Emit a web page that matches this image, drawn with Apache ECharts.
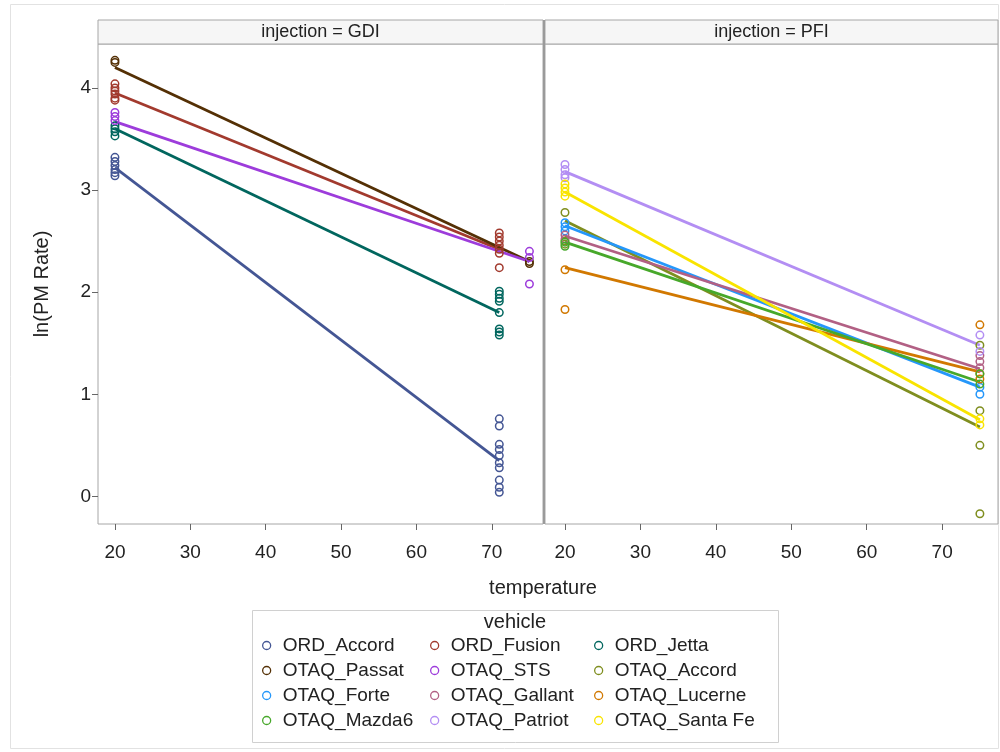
<!DOCTYPE html>
<html>
<head>
<meta charset="utf-8">
<script src="https://cdn.jsdelivr.net/npm/echarts@6/dist/echarts.min.js"></script>
<style>html,body{margin:0;padding:0;background:#fff}#c{width:1000px;height:752px}</style>
</head>
<body>
<div id="c"></div>
<script>
// ---- data ----
const vehicles = ['ORD_Accord','ORD_Fusion','ORD_Jetta','OTAQ_Passat','OTAQ_STS','OTAQ_Accord',
                  'OTAQ_Forte','OTAQ_Gallant','OTAQ_Lucerne','OTAQ_Mazda6','OTAQ_Patriot','OTAQ_Santa Fe'];
const injection = ['GDI','GDI','GDI','GDI','GDI','PFI','PFI','PFI','PFI','PFI','PFI','PFI'];
const xTicks = [20,30,40,50,60,70];
const yTicks = [0,1,2,3,4];

// observations: [temperature, ln(PM Rate)]
const ORD_Accord = [[20,3.32],[20,3.28],[20,3.24],[20,3.2],[20,3.17],[20,3.14],
  [71,0.76],[71,0.69],[71,0.51],[71,0.46],[71,0.4],[71,0.33],[71,0.28],[71,0.16],[71,0.09],[71,0.04]];
const ORD_Fusion = [[20,4.04],[20,4.0],[20,3.97],[20,3.94],[20,3.9],[20,3.88],
  [71,2.58],[71,2.54],[71,2.5],[71,2.46],[71,2.42],[71,2.38],[71,2.24]];
const ORD_Jetta = [[20,3.63],[20,3.6],[20,3.57],[20,3.53],
  [71,2.01],[71,1.98],[71,1.94],[71,1.91],[71,1.8],[71,1.64],[71,1.61],[71,1.58]];
const OTAQ_Passat = [[20,4.27],[20,4.25],[75,2.3],[75,2.28]];
const OTAQ_STS = [[20,3.76],[20,3.72],[20,3.68],[75,2.4],[75,2.34],[75,2.08]];
const OTAQ_Accord = [[20,2.78],[20,2.5],[20,2.47],[75,1.48],[75,0.84],[75,0.5],[75,-0.17]];
const OTAQ_Forte = [[20,2.68],[20,2.64],[20,2.6],[75,1.07],[75,1.0]];
const OTAQ_Gallant = [[20,2.56],[20,2.52],[75,1.38],[75,1.32],[75,1.26]];
const OTAQ_Lucerne = [[20,2.22],[20,1.83],[75,1.68],[75,1.2],[75,1.15]];
const OTAQ_Mazda6 = [[20,2.49],[20,2.45],[75,1.2],[75,1.1]];
const OTAQ_Patriot = [[20,3.25],[20,3.2],[20,3.15],[20,3.12],[75,1.58],[75,1.42]];
const OTAQ_SantaFe = [[20,3.06],[20,3.02],[20,2.98],[20,2.94],[75,0.76],[75,0.7]];
const observations = [ORD_Accord,ORD_Fusion,ORD_Jetta,OTAQ_Passat,OTAQ_STS,OTAQ_Accord,
  OTAQ_Forte,OTAQ_Gallant,OTAQ_Lucerne,OTAQ_Mazda6,OTAQ_Patriot,OTAQ_SantaFe];

// fitted regression lines: value at the start temperature and at the end temperature
const fitStartTemp = [20,20,20,20,20,20,20,20,20,20,20,20];
const fitStart = [3.22,3.95,3.6,4.2,3.67,2.7,2.65,2.55,2.24,2.49,3.18,2.98];
const fitEndTemp = [71,71,71,75,75,75,75,75,75,75,75,75];
const fitEnd = [0.35,2.42,1.8,2.3,2.3,0.68,1.07,1.25,1.22,1.12,1.48,0.75];

// ---- style ----
const colors = ['#445694','#A23A2E','#01665E','#543005','#9D3CDB','#7F8E1F',
                '#2597FA','#B26084','#D17800','#47A82A','#B38EF3','#F9E400'];
const FONT = 'Liberation Sans, Arial, sans-serif';
const TXT = '#222';

const chart = echarts.init(document.getElementById('c'), null, {renderer:'canvas'});

const gridTop = 44, gridH = 480;
const grids = [
  {left:98, top:gridTop, width:445, height:gridH},
  {left:545, top:gridTop, width:453, height:gridH}
].map(g => Object.assign(g, {show:true, borderColor:'#a6a6a6', borderWidth:1, backgroundColor:'#fff', containLabel:false}));

function xAx(i, min, max) {
  return {
    type:'value', gridIndex:i, min:min, max:max, position:'bottom',
    axisLine:{show:false, onZero:false}, splitLine:{show:false},
    axisTick:{show:true, inside:false, length:6, lineStyle:{color:'#666'}, customValues:xTicks},
    axisLabel:{customValues:xTicks, margin:19, fontSize:19, fontFamily:FONT, color:TXT}
  };
}
function yAx(i, showLabels) {
  return {
    type:'value', gridIndex:i, min:-0.27, max:4.43, position:'left',
    axisLine:{show:false, onZero:false}, splitLine:{show:false},
    axisTick:{show:showLabels, inside:false, length:6, lineStyle:{color:'#666'}, customValues:yTicks},
    axisLabel:{show:showLabels, customValues:yTicks, margin:7, fontSize:19, fontFamily:FONT, color:TXT},
    name: showLabels ? 'ln(PM Rate)' : '',
    nameLocation:'middle', nameGap:46,
    nameTextStyle:{fontSize:20, fontFamily:FONT, color:TXT}
  };
}

const series = [];
vehicles.forEach((v, k) => {
  const gi = injection[k] === 'GDI' ? 0 : 1;
  series.push({
    name:v, type:'line', xAxisIndex:gi, yAxisIndex:gi,
    data:[[fitStartTemp[k], fitStart[k]], [fitEndTemp[k], fitEnd[k]]],
    showSymbol:false, symbol:'none', silent:true, z:2,
    lineStyle:{color:colors[k], width:2.8},
    itemStyle:{color:'rgba(0,0,0,0)', borderColor:colors[k], borderWidth:1.5}
  });
});
vehicles.forEach((v, k) => {
  const gi = injection[k] === 'GDI' ? 0 : 1;
  series.push({
    name:v, type:'scatter', xAxisIndex:gi, yAxisIndex:gi,
    data:observations[k], symbol:'circle', symbolSize:7.5, z:3,
    itemStyle:{color:'rgba(0,0,0,0)', borderColor:colors[k], borderWidth:1.5, opacity:1}
  });
});

const legendCols = [
  ['ORD_Accord','OTAQ_Passat','OTAQ_Forte','OTAQ_Mazda6'],
  ['ORD_Fusion','OTAQ_STS','OTAQ_Gallant','OTAQ_Patriot'],
  ['ORD_Jetta','OTAQ_Accord','OTAQ_Lucerne','OTAQ_Santa Fe']
];
const legendLeft = [262, 430, 594];
const legends = legendCols.map((col, i) => ({
  orient:'vertical', left:legendLeft[i], top:636, padding:0,
  data:col.map(n => ({name:n, icon:'circle', itemStyle:{color:'rgba(0,0,0,0)', borderColor:colors[vehicles.indexOf(n)], borderWidth:1.3}})),
  itemWidth:22, itemHeight:8, itemGap:6, selectedMode:false,
  textStyle:{fontSize:19, fontFamily:FONT, color:TXT, lineHeight:18}
}));

const option = {
  animation:false,
  backgroundColor:'#fff',
  grid:grids,
  xAxis:[xAx(0, 17.75, 76.8), xAx(1, 17.35, 77.4)],
  yAxis:[yAx(0, true), yAx(1, false)],
  legend:legends,
  series:series,
  graphic:[
    {type:'rect', shape:{x:10.5, y:4.5, width:988, height:744}, style:{fill:'none', stroke:'#e2e2e2', lineWidth:1}, silent:true, z:-10},
    {type:'rect', shape:{x:98, y:20, width:445, height:24}, style:{fill:'#f6f6f6', stroke:'#a6a6a6', lineWidth:1}, silent:true},
    {type:'rect', shape:{x:545, y:20, width:453, height:24}, style:{fill:'#f6f6f6', stroke:'#a6a6a6', lineWidth:1}, silent:true},
    {type:'rect', shape:{x:543, y:20, width:2, height:504}, style:{fill:'#9a9a9a'}, silent:true, z:5},
    {type:'text', x:320.5, y:32, style:{text:'injection = GDI', fontSize:18, fontFamily:FONT, fill:TXT, align:'center', verticalAlign:'middle'}, silent:true},
    {type:'text', x:771.5, y:32, style:{text:'injection = PFI', fontSize:18, fontFamily:FONT, fill:TXT, align:'center', verticalAlign:'middle'}, silent:true},
    {type:'text', x:543, y:588, style:{text:'temperature', fontSize:20, fontFamily:FONT, fill:TXT, align:'center', verticalAlign:'middle'}, silent:true},
    {type:'rect', shape:{x:252.5, y:610.5, width:526, height:132}, style:{fill:'none', stroke:'#d0d0d0', lineWidth:1}, silent:true},
    {type:'text', x:515, y:622, style:{text:'vehicle', fontSize:20, fontFamily:FONT, fill:TXT, align:'center', verticalAlign:'middle'}, silent:true}
  ]
};
chart.setOption(option);
</script>
</body>
</html>
